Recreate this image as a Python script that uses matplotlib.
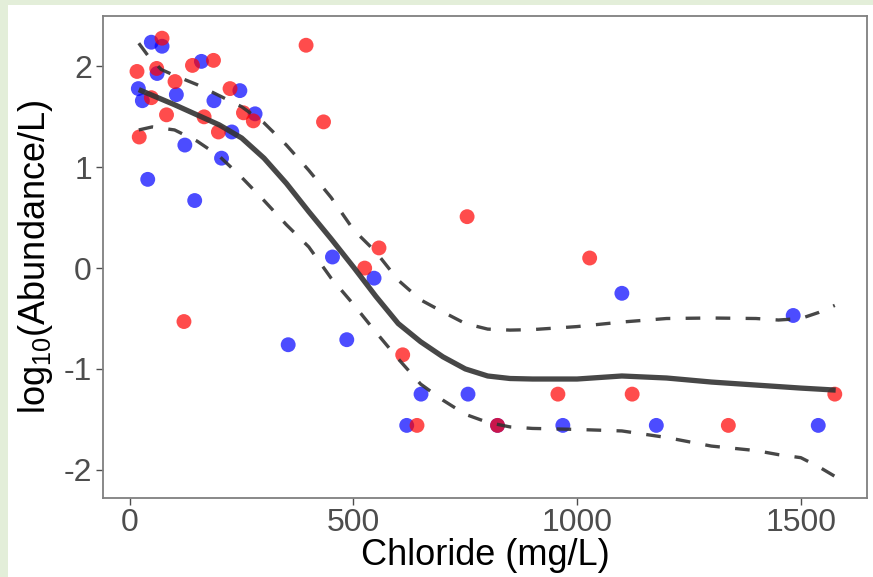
import numpy as np
import matplotlib.pyplot as plt
from matplotlib.patches import Rectangle

plt.rcParams['font.family'] = ['Liberation Sans', 'DejaVu Sans']

# Observed points (chloride mg/L, log10 abundance/L)
red_x = [72, 16, 60, 101, 48, 82, 140, 187, 166, 224, 254, 276, 198, 21, 394,
         433, 121, 754, 557, 525, 1028, 610, 642, 822, 957, 1123, 1338, 1576]
red_y = [2.28, 1.95, 1.98, 1.85, 1.69, 1.52, 2.01, 2.06, 1.50, 1.78, 1.54, 1.46, 1.35, 1.30, 2.21,
         1.45, -0.53, 0.51, 0.20, 0.00, 0.10, -0.86, -1.56, -1.56, -1.25, -1.25, -1.56, -1.25]

blue_x = [48, 72, 61, 19, 28, 104, 160, 188, 246, 280, 228, 123, 205, 40, 145,
          453, 546, 485, 354, 651, 756, 619, 822, 968, 1100, 1483, 1177, 1539]
blue_y = [2.24, 2.20, 1.93, 1.78, 1.66, 1.72, 2.05, 1.66, 1.76, 1.53, 1.35, 1.22, 1.09, 0.88, 0.67,
          0.11, -0.10, -0.71, -0.76, -1.25, -1.25, -1.56, -1.56, -1.56, -0.25, -0.47, -1.56, -1.56]

# Fitted trend
fit_x = [20, 100, 200, 250, 300, 350, 400, 450, 500, 550, 600, 650, 700, 750, 800, 850, 900,
         1000, 1100, 1200, 1300, 1400, 1500, 1578]
fit_y = [1.77, 1.62, 1.42, 1.29, 1.09, 0.84, 0.56, 0.29, 0.01, -0.28, -0.55, -0.73, -0.88, -1.00,
         -1.07, -1.095, -1.10, -1.10, -1.07, -1.09, -1.13, -1.16, -1.19, -1.21]

# Upper / lower confidence bands
up_x = [20, 40, 70, 100, 150, 200, 250, 300, 350, 400, 450, 500, 550, 600, 650, 700, 750,
        800, 850, 900, 1000, 1100, 1200, 1300, 1400, 1450, 1500, 1540, 1576]
up_y = [2.23, 2.11, 1.97, 1.91, 1.82, 1.71, 1.60, 1.44, 1.22, 0.97, 0.70, 0.38, 0.16, -0.12,
        -0.315, -0.435, -0.55, -0.605, -0.615, -0.61, -0.58, -0.535, -0.50, -0.495, -0.50,
        -0.515, -0.50, -0.44, -0.37]

lo_x = [20, 50, 100, 150, 200, 250, 300, 350, 400, 450, 500, 550, 600, 650, 700, 750, 800,
        850, 900, 1000, 1100, 1200, 1300, 1400, 1450, 1500, 1540, 1578]
lo_y = [1.37, 1.40, 1.37, 1.26, 1.11, 0.90, 0.67, 0.43, 0.21, -0.10, -0.36, -0.635, -0.90,
        -1.15, -1.31, -1.45, -1.53, -1.575, -1.59, -1.60, -1.615, -1.68, -1.765, -1.81, -1.85,
        -1.88, -1.97, -2.07]

x_ticks = [0, 500, 1000, 1500]
y_ticks = [-2, -1, 0, 1, 2]

fig = plt.figure(figsize=(8.73, 5.77), dpi=100)
fig.patch.set_facecolor('white')
green = '#E3EED9'
fig.add_artist(Rectangle((0, 0), 8 / 873, 1, transform=fig.transFigure,
                         facecolor=green, edgecolor='none', zorder=0))
fig.add_artist(Rectangle((0, 1 - 5 / 577), 1, 5 / 577, transform=fig.transFigure,
                         facecolor=green, edgecolor='none', zorder=0))

ax = fig.add_axes([103 / 873, 1 - 498 / 577, (867 - 103) / 873, (498 - 16) / 577])

ax.scatter(blue_x, blue_y, s=115, color='#0000FF', alpha=0.7, edgecolors='none', zorder=2)
ax.scatter(red_x, red_y, s=115, color='#FF0000', alpha=0.7, edgecolors='none', zorder=2)

line_col = '#333333'
ax.plot(fit_x, fit_y, color=line_col, lw=3.8, alpha=0.9, solid_capstyle='butt',
        solid_joinstyle='round', zorder=3)
ax.plot(up_x, up_y, color=line_col, lw=2.4, alpha=0.9, dashes=(4.4, 4.6), zorder=3)
ax.plot(lo_x, lo_y, color=line_col, lw=2.4, alpha=0.9, dashes=(4.4, 4.6), zorder=3)

ax.set_xlim(-60, 1648)
ax.set_ylim(-2.28, 2.5)
ax.set_xticks(x_ticks)
ax.set_yticks(y_ticks)
ax.set_xticklabels([str(v) for v in x_ticks])
ax.set_yticklabels([str(v) for v in y_ticks])
ax.tick_params(axis='both', labelsize=23, colors='#4D4D4D', length=5, width=1, pad=3)
ax.tick_params(axis='x', pad=2)

for sp in ax.spines.values():
    sp.set_color('#7F7F7F')
    sp.set_linewidth(1.3)

ax.set_xlabel('Chloride (mg/L)', fontsize=26, color='black', labelpad=0)
ax.set_ylabel(r'$\mathregular{log_{10}}$(Abundance/L)', fontsize=26, color='black', labelpad=6)

fig.savefig('out.png', dpi=100, facecolor=fig.get_facecolor())
